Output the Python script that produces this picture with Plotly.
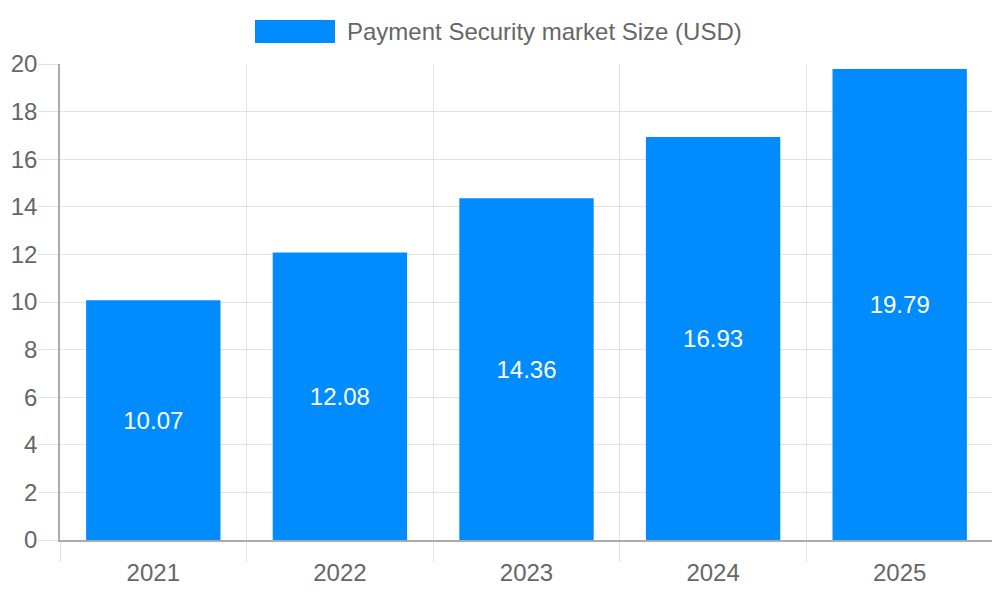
import plotly.graph_objects as go

years = ["2021", "2022", "2023", "2024", "2025"]
market_size = [10.07, 12.08, 14.36, 16.93, 19.79]
series_name = "Payment Security market Size (USD)"

bar_color = "#008cff"
grid_color = "#e2e2e2"
axis_color = "#aaaaaa"
font = dict(family="Liberation Sans, Arial, sans-serif", size=24, color="#666666")

# page has an 8px body margin, so the figure is shrunk to fit the 1000x600 window
W, H = 992, 592
ml, mr, mt, mb = 52, 7, 56, 60
pw, ph = W - ml - mr, H - mt - mb

fig = go.Figure()
fig.add_trace(go.Bar(
    x=years, y=market_size, name=series_name,
    marker_color=bar_color, marker_line_width=0,
    text=[f"{v:.2f}" for v in market_size],
    textposition="inside", insidetextanchor="middle",
    textfont=dict(family=font["family"], size=24, color="white"),
    showlegend=False,
))

# chart.js style legend: wide colour box + label
fig.add_shape(type="rect", xref="paper", yref="paper",
              x0=(255 - 60) / pw, x1=(335 - 60) / pw,
              y0=(540 - 43) / ph, y1=(540 - 20) / ph,
              fillcolor=bar_color, line_width=0)
fig.add_annotation(text=series_name, xref="paper", yref="paper",
                   x=(345 - 60) / pw, y=(540 - 31.5) / ph,
                   xanchor="left", yanchor="middle", showarrow=False, font=font)

fig.update_layout(
    width=W, height=H,
    margin=dict(l=ml, r=mr, t=mt, b=mb),
    plot_bgcolor="white", paper_bgcolor="white",
    font=font, bargap=0.28,
)
fig.update_xaxes(
    type="category", tickson="boundaries",
    showgrid=True, gridcolor=grid_color, gridwidth=1,
    ticks="outside", ticklen=20, tickcolor=grid_color,
    showline=True, linecolor=axis_color, linewidth=1.5,
    ticklabelstandoff=10, automargin=False,
)
fig.update_yaxes(
    range=[0, 20], dtick=2,
    showgrid=True, gridcolor=grid_color, gridwidth=1,
    ticks="outside", ticklen=20, tickcolor=grid_color,
    showline=True, linecolor=axis_color, linewidth=1.5,
    zeroline=False, automargin=False, ticklabelstandoff=-4,
)

fig.write_html("out.html")
